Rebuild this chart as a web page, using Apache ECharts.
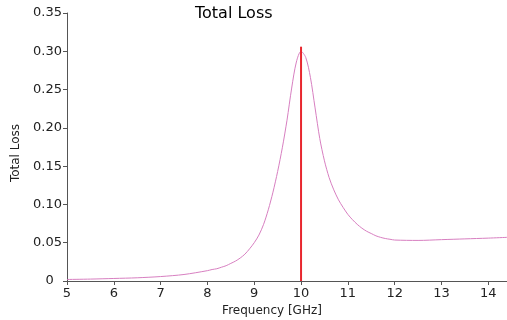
<!DOCTYPE html>
<html>
<head>
<meta charset="utf-8">
<script src="https://cdn.jsdelivr.net/npm/echarts@6/dist/echarts.min.js"></script>
<style>html,body{margin:0;padding:0;background:#fff}#c{width:507px;height:320px}</style>
</head>
<body>
<div id="c"></div>
<script>
const freq = [5.0,5.5,6.0,6.5,7.0,7.5,8.0,8.1,8.2,8.3,8.4,8.5,8.6,8.7,8.8,8.9,9.0,9.1,9.2,9.3,9.4,9.5,9.6,9.7,9.8,9.9,10.0,10.1,10.2,10.3,10.4,10.5,10.6,10.7,10.8,10.9,11.0,11.1,11.2,11.3,11.4,11.5,11.6,11.7,11.8,11.9,12.0,12.5,13.0,13.5,14.0,14.4];
const loss = [0.002,0.0025,0.0033,0.0042,0.0058,0.0085,0.0135,0.015,0.016,0.018,0.020,0.023,0.026,0.030,0.035,0.042,0.050,0.060,0.074,0.093,0.116,0.143,0.174,0.210,0.252,0.286,0.300,0.292,0.266,0.226,0.186,0.157,0.135,0.119,0.106,0.096,0.087,0.080,0.074,0.069,0.065,0.062,0.059,0.057,0.0555,0.0545,0.0535,0.053,0.054,0.055,0.056,0.057];
const markerX = [10.0, 10.0];
const markerY = [0, 0.306];
const xTicks = {min: 5, max: 14.4, interval: 1};
const yTicks = {min: 0, max: 0.35, interval: 0.05};

const chart = echarts.init(document.getElementById('c'), null, {renderer: 'canvas'});
const font = 'DejaVu Sans';
chart.setOption({
  animation: false,
  title: {text: 'Total Loss', left: 195, top: 6, padding: 0, textStyle: {fontFamily: font, fontSize: 16, fontWeight: 'normal', color: '#000'}},
  grid: {left: 67, right: 0, top: 13, bottom: 39, containLabel: false, outerBoundsMode: 'none'},
  xAxis: {
    type: 'value', min: xTicks.min, max: xTicks.max, interval: xTicks.interval,
    name: 'Frequency [GHz]', nameLocation: 'middle', nameGap: 23,
    nameTextStyle: {fontFamily: font, fontSize: 12, color: '#222', padding: [0, 30, 0, 0]},
    axisLine: {lineStyle: {color: '#555', width: 1}},
    axisTick: {show: true, length: 4, lineStyle: {color: '#555'}},
    axisLabel: {fontFamily: font, fontSize: 13, color: '#222', margin: 6, showMaxLabel: false},
    splitLine: {show: false}
  },
  yAxis: {
    type: 'value', min: yTicks.min, max: yTicks.max, interval: yTicks.interval,
    name: 'Total Loss', nameLocation: 'middle', nameGap: 36, nameRotate: 90,
    nameTextStyle: {fontFamily: font, fontSize: 12, color: '#222', padding: [0, 12, 0, 0]},
    axisLine: {show: true, lineStyle: {color: '#555', width: 1}},
    axisTick: {show: true, length: 4, lineStyle: {color: '#555'}},
    axisLabel: {fontFamily: font, fontSize: 13, color: '#222', margin: 5,
      formatter: v => v === 0 ? '0  ' : v.toFixed(2)},
    splitLine: {show: false}
  },
  series: [
    {type: 'line', data: freq.map((f, i) => [f, loss[i]]), smooth: 0.3, showSymbol: false,
     lineStyle: {color: '#d77fc0', width: 1}},
    {type: 'line', data: markerX.map((f, i) => [f, markerY[i]]), showSymbol: false,
     lineStyle: {color: '#e8262e', width: 2}}
  ]
});
</script>
</body>
</html>
